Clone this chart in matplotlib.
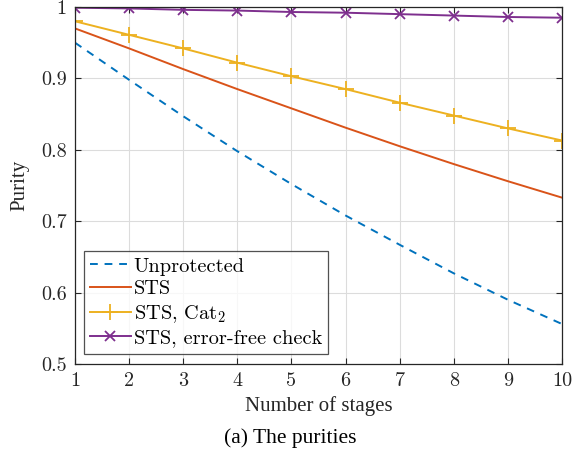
import matplotlib
matplotlib.use("Agg")
from matplotlib import pyplot as plt

# Data
stages = [1, 2, 3, 4, 5, 6, 7, 8, 9, 10]
unprotected = [0.950, 0.898, 0.847, 0.798, 0.752, 0.708, 0.667, 0.627, 0.590, 0.556]
sts = [0.970, 0.942, 0.913, 0.885, 0.858, 0.831, 0.805, 0.780, 0.756, 0.733]
sts_cat2 = [0.980, 0.961, 0.942, 0.922, 0.903, 0.885, 0.866, 0.848, 0.830, 0.813]
sts_check = [0.999, 0.998, 0.996, 0.995, 0.993, 0.992, 0.990, 0.988, 0.986, 0.985]

x_ticks = list(range(1, 11))
y_ticks = [0.5, 0.6, 0.7, 0.8, 0.9, 1.0]
y_tick_labels = ["0.5", "0.6", "0.7", "0.8", "0.9", "1"]

plt.rcParams["mathtext.fontset"] = "cm"
plt.rcParams["font.family"] = ["Liberation Serif", "DejaVu Serif"]
CM = ["cmr10", "DejaVu Serif"]

fig = plt.figure(figsize=(5.73, 4.61), dpi=100)
ax = fig.add_axes([75 / 573, 1 - 364 / 461, 487 / 573, 357 / 461])

# Curves
ax.plot(stages, unprotected, color="#0072BD", lw=1.4, ls=(0, (4, 3.5)), label="Unprotected")
ax.plot(stages, sts, color="#D95319", lw=1.4, label="STS")
ax.plot(stages, sts_cat2, color="#EDB120", lw=1.4, marker="+", ms=11, mew=1.3,
        label=r"STS, Cat$_2$")
ax.plot(stages, sts_check, color="#7E2F8E", lw=1.4, marker="x", ms=7, mew=1.3,
        label="STS, error-free check")

# Axes styling (matlab-like)
ax.set_xlim(1, 10)
ax.set_ylim(0.5, 1.0)
ax.set_xticks(x_ticks)
ax.set_xticklabels([str(t) for t in x_ticks], family=CM)
ax.set_yticks(y_ticks)
ax.set_yticklabels(y_tick_labels, family=CM)
ax.tick_params(direction="in", length=4, width=0.8, labelsize=14.5, colors="#262626",
               top=True, right=True, pad=6)
ax.grid(True, color="#dcdcdc", lw=0.8)
ax.set_axisbelow(True)
for s in ax.spines.values():
    s.set_color("#262626")
    s.set_linewidth(0.9)

ax.set_xlabel("Number of stages", fontsize=15, color="#262626", labelpad=4)
ax.set_ylabel("Purity", fontsize=15, color="#262626", labelpad=8)

leg = ax.legend(loc="lower left", bbox_to_anchor=(0.005, 0.012), frameon=True,
                prop={"family": CM, "size": 14.7},
                fancybox=False, edgecolor="#262626", handlelength=2.0, handletextpad=0.15,
                borderpad=0.3, labelspacing=0.22, borderaxespad=0.3)
leg.get_frame().set_linewidth(0.9)

fig.text(290 / 573, 1 - 438 / 461, "(a) The purities", fontsize=15.5, ha="center", va="center")

plt.savefig("out.png", dpi=100)
